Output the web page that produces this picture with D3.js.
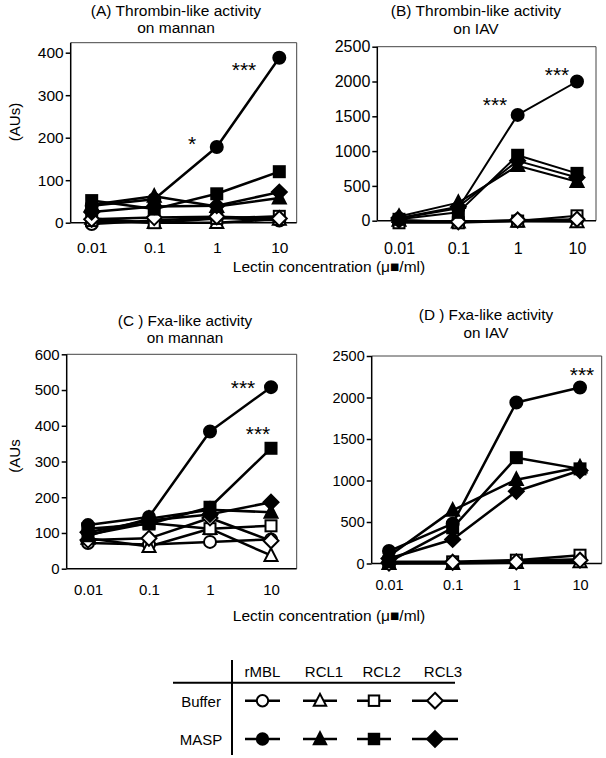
<!DOCTYPE html>
<html>
<head>
<meta charset="utf-8">
<script src="https://cdn.jsdelivr.net/npm/d3@7/dist/d3.min.js"></script>
<style>
  html, body { margin: 0; padding: 0; background: #fff; }
  svg { display: block; font-family: "Liberation Sans", Arial, sans-serif; }
</style>
</head>
<body>
<svg id="chart" width="606" height="758"></svg>
<script>
// ---------------- DATA ----------------
const concentrations = [0.01, 0.1, 1, 10];
const xTickLabels = ["0.01", "0.1", "1", "10"];
const lectins = ["rMBL", "RCL1", "RCL2", "RCL3"];
const treatments = ["Buffer", "MASP"];

// (A) Thrombin-like activity on mannan  [rMBL, RCL1, RCL2, RCL3]
const thrombinMannanBuffer = [[-3, 5, 12, 5], [10, 0, 0, 8], [5, 0, 10, 15], [8, 12, 14, 10]];
const thrombinMannanMASP   = [[40, 55, 178, 388], [42, 62, 38, 58], [52, 32, 68, 120], [25, 38, 40, 72]];
const thrombinMannanTicks  = [0, 100, 200, 300, 400];

// (B) Thrombin-like activity on IAV
const thrombinIAVBuffer = [[-10, -15, 5, 10], [5, -20, -10, -15], [-30, -30, -5, 70], [10, -15, 10, 20]];
const thrombinIAVMASP   = [[30, 180, 1520, 2000], [60, 260, 790, 560], [20, 120, 940, 680], [40, 200, 860, 620]];
const thrombinIAVTicks  = [0, 500, 1000, 1500, 2000, 2500];

// (C) Fxa-like activity on mannan
const fxaMannanBuffer = [[72, 68, 75, 82], [85, 62, 112, 37], [95, 128, 112, 120], [80, 85, 142, 78]];
const fxaMannanMASP   = [[122, 145, 384, 508], [92, 140, 165, 158], [112, 125, 172, 337], [102, 135, 152, 186]];
const fxaMannanTicks  = [0, 100, 200, 300, 400, 500, 600];

// (D) Fxa-like activity on IAV
const fxaIAVBuffer = [[10, 10, 30, 50], [0, 0, 10, 20], [20, 20, 40, 100], [5, 15, 20, 40]];
const fxaIAVMASP   = [[150, 480, 1940, 2120], [90, 640, 1010, 1160], [20, 430, 1275, 1140], [60, 290, 870, 1120]];
const fxaIAVTicks  = [0, 500, 1000, 1500, 2000, 2500];

// ---------------- LAYOUT ----------------
const panels = [
  { title: ["(A) Thrombin-like activity", "on mannan"], titleX: 176, titleY: [16, 33], titleFs: 15.5,
    buffer: thrombinMannanBuffer, masp: thrombinMannanMASP, ticks: thrombinMannanTicks, yMax: 423.5,
    left: 70.7, right: 296.7, top: 42.7, bottom: 222.7, xr: [91.7, 279.3], fs: 15.5, pad: 19.5, lw: 2.5,
    stars: [{t: "***", x: 244, y: 77}, {t: "*", x: 192, y: 151}] },
  { title: ["(B) Thrombin-like activity", "on IAV"], titleX: 476, titleY: [16, 34], titleFs: 15.5,
    buffer: thrombinIAVBuffer, masp: thrombinIAVMASP, ticks: thrombinIAVTicks, yMax: 2500,
    left: 377.3, right: 596, top: 46.7, bottom: 220.7, xr: [399, 577], fs: 16, pad: 22, lw: 2,
    stars: [{t: "***", x: 557, y: 82}, {t: "***", x: 495, y: 112}] },
  { title: ["(C ) Fxa-like activity", "on mannan"], titleX: 185, titleY: [326, 343], titleFs: 15.3,
    buffer: fxaMannanBuffer, masp: fxaMannanMASP, ticks: fxaMannanTicks, yMax: 600,
    left: 66.7, right: 296.7, top: 354.3, bottom: 568.7, xr: [88, 271], fs: 15, pad: 16, lw: 2.5,
    stars: [{t: "***", x: 243, y: 395}, {t: "***", x: 258, y: 441}] },
  { title: ["(D ) Fxa-like activity", "on IAV"], titleX: 486, titleY: [320, 338], titleFs: 15.3,
    buffer: fxaIAVBuffer, masp: fxaIAVMASP, ticks: fxaIAVTicks, yMax: 2500,
    left: 371.7, right: 601.7, top: 356, bottom: 563.5, xr: [389, 580], fs: 14.5, pad: 16, lw: 2.5,
    stars: [{t: "***", x: 582, y: 382}] }
];

const svg = d3.select("#chart");

// marker drawing
function drawMarker(g, shape, filled, cx, cy, scale) {
  const s = scale || 1;
  const fill = filled ? "#000" : "#fff";
  const sw = 2;
  let el;
  if (shape === "rMBL") {
    el = g.append("circle").attr("cx", cx).attr("cy", cy).attr("r", 6 * s);
  } else if (shape === "RCL1") {
    const h = 12 * s, w = 13 * s;
    el = g.append("path").attr("d", `M${cx},${cy - h * 0.6}L${cx + w / 2},${cy + h * 0.45}L${cx - w / 2},${cy + h * 0.45}Z`);
  } else if (shape === "RCL2") {
    const a = 11 * s;
    el = g.append("rect").attr("x", cx - a / 2).attr("y", cy - a / 2).attr("width", a).attr("height", a);
  } else {
    const r = 7.5 * s;
    el = g.append("path").attr("d", `M${cx},${cy - r}L${cx + r},${cy}L${cx},${cy + r}L${cx - r},${cy}Z`);
  }
  el.attr("fill", fill).attr("stroke", "#000").attr("stroke-width", sw).attr("stroke-linejoin", "miter");
}

panels.forEach(p => {
  const g = svg.append("g");
  const x = d3.scaleLog().domain([concentrations[0], concentrations[concentrations.length - 1]]).range(p.xr);
  const y = d3.scaleLinear().domain([0, p.yMax]).range([p.bottom, p.top]);

  // frame
  g.append("path")
    .attr("d", `M${p.left},${p.top}H${p.right}V${p.bottom}`)
    .attr("fill", "none").attr("stroke", "#444").attr("stroke-width", 1);

  // y axis
  const ya = g.append("g").attr("transform", `translate(${p.left},0)`)
    .call(d3.axisLeft(y).tickValues(p.ticks).tickSize(5).tickPadding(2).tickFormat(d3.format("d")));
  ya.select(".domain").remove();
  ya.selectAll("line").attr("stroke", "#000").attr("stroke-width", 1.5);
  ya.selectAll("text").attr("font-size", p.fs).attr("fill", "#000").attr("font-family", "Liberation Sans, Arial, sans-serif");

  // x axis labels
  const xa = g.append("g").attr("transform", `translate(0,${p.bottom})`)
    .call(d3.axisBottom(x).tickValues(concentrations).tickSize(0).tickPadding(p.pad)
      .tickFormat((d, i) => xTickLabels[i]));
  xa.select(".domain").remove();
  xa.selectAll("text").attr("font-size", p.fs).attr("fill", "#000").attr("font-family", "Liberation Sans, Arial, sans-serif");

  // left axis line and zero line
  g.append("line").attr("x1", p.left).attr("x2", p.left).attr("y1", p.top).attr("y2", p.bottom)
    .attr("stroke", "#000").attr("stroke-width", 1.5);
  g.append("line").attr("x1", p.left).attr("x2", p.right).attr("y1", y(0)).attr("y2", y(0))
    .attr("stroke", "#000").attr("stroke-width", 1.5);

  // lines + markers
  const line = d3.line().x((d, i) => x(concentrations[i])).y(d => y(d));
  const series = [];
  p.buffer.forEach((vals, k) => series.push({ vals, lectin: lectins[k], filled: false }));
  p.masp.forEach((vals, k) => series.push({ vals, lectin: lectins[k], filled: true }));

  series.forEach(s => {
    g.append("path").attr("d", line(s.vals)).attr("fill", "none")
      .attr("stroke", "#000").attr("stroke-width", p.lw).attr("stroke-linejoin", "round");
  });
  series.forEach(s => {
    s.vals.forEach((v, i) => drawMarker(g, s.lectin, s.filled, x(concentrations[i]), y(v), 1));
  });

  // title
  p.title.forEach((t, i) => {
    g.append("text").attr("x", p.titleX).attr("y", p.titleY[i]).attr("text-anchor", "middle")
      .attr("font-size", p.titleFs).text(t);
  });

  // significance stars
  p.stars.forEach(st => {
    g.append("text").attr("x", st.x).attr("y", st.y).attr("text-anchor", "middle")
      .attr("font-size", 21).text(st.t);
  });
});

// y axis labels
svg.append("text").attr("transform", "translate(20,122) rotate(-90)").attr("text-anchor", "middle")
  .attr("font-size", 15).text("(AUs)");
svg.append("text").attr("transform", "translate(20,456) rotate(-90)").attr("text-anchor", "middle")
  .attr("font-size", 15).text("(AUs");

// x axis labels
[272, 621].forEach(yy => {
  svg.append("text").attr("x", 329).attr("y", yy).attr("text-anchor", "middle").attr("font-size", 15.5)
    .text("Lectin concentration (μ■/ml)");
});

// ---------------- LEGEND ----------------
const lg = svg.append("g");
lg.append("line").attr("x1", 232).attr("x2", 232).attr("y1", 660).attr("y2", 755).attr("stroke", "#000").attr("stroke-width", 2);
lg.append("line").attr("x1", 173).attr("x2", 455).attr("y1", 682.7).attr("y2", 682.7).attr("stroke", "#000").attr("stroke-width", 2);

const headerX = [262.5, 324, 381.7, 443];
const symX = [262.5, 320, 374, 435];
const symHalf = [17.5, 17, 17, 23];
const rowY = [700.7, 739];
const rowLabelY = [707, 745];

lectins.forEach((l, i) => {
  lg.append("text").attr("x", headerX[i]).attr("y", 677).attr("text-anchor", "middle").attr("font-size", 15).text(l);
});
treatments.forEach((t, r) => {
  lg.append("text").attr("x", 201).attr("y", rowLabelY[r]).attr("text-anchor", "middle").attr("font-size", 15).text(t);
  lectins.forEach((l, i) => {
    lg.append("line").attr("x1", symX[i] - symHalf[i]).attr("x2", symX[i] + symHalf[i])
      .attr("y1", rowY[r]).attr("y2", rowY[r]).attr("stroke", "#000").attr("stroke-width", 2.5);
    drawMarker(lg, l, r === 1, symX[i], rowY[r], i === 3 ? 1.05 : 0.95);
  });
});
</script>
</body>
</html>
